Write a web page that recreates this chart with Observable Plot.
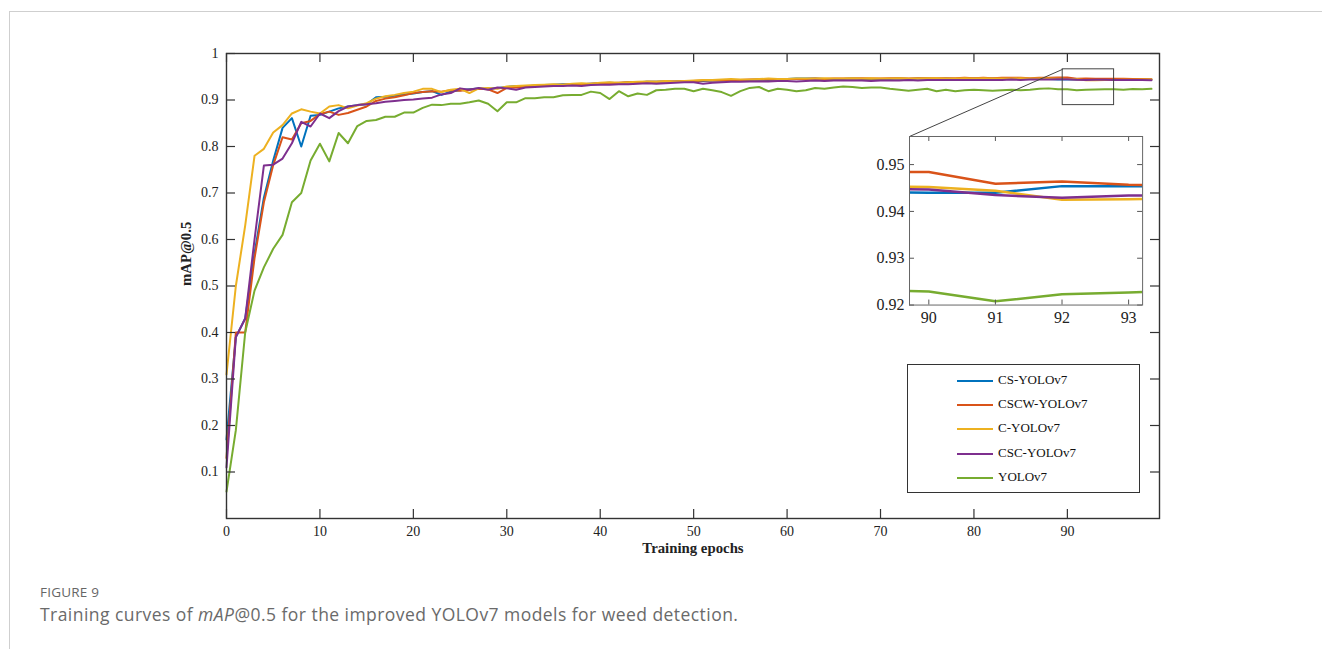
<!DOCTYPE html>
<html><head><meta charset="utf-8">
<script src="https://cdn.jsdelivr.net/npm/d3@7"></script>
<script src="https://cdn.jsdelivr.net/npm/@observablehq/plot@0.6"></script>
<style>
body{margin:0;background:#fff;}
#wrap{position:relative;width:1322px;height:649px;overflow:hidden;background:#fff;}
#card{position:absolute;left:9px;top:11px;width:1330px;height:660px;border-left:1px solid #cfcfcf;border-top:1px solid #cfcfcf;}
#main{position:absolute;left:0;top:40px;}
#inset{position:absolute;}
#legend{position:absolute;left:907px;top:364px;width:231px;height:127px;border:1px solid #333;background:#fff;font-family:'Liberation Serif',serif;font-size:13px;color:#111;}
.lg-row{position:absolute;left:0;height:16px;width:100%;}
.lg-line{position:absolute;left:49px;top:7px;width:36px;height:2px;}
.lg-text{position:absolute;left:90px;top:-1px;line-height:16px;white-space:nowrap;}
#fig{position:absolute;left:40px;top:583px;font-family:'Open Sans',sans-serif;font-size:13.5px;color:#666;letter-spacing:0.2px;}
#cap{position:absolute;left:40px;top:602px;font-family:'Open Sans',sans-serif;font-size:17.5px;color:#6a6a6a;white-space:nowrap;letter-spacing:0.45px;}
</style></head>
<body><div id="wrap"><div id="card"></div><div id="main"></div><div id="inset"></div><div id="legend"></div>
<div id="fig">FIGURE 9</div>
<div id="cap">Training curves of <i>mAP</i>@0.5 for the improved YOLOv7 models for weed detection.</div>
</div>
<script>
// ---------------- DATA ----------------
const epochs = d3.range(100);
const seriesNames = ["CS-YOLOv7", "CSCW-YOLOv7", "C-YOLOv7", "CSC-YOLOv7", "YOLOv7"];
const seriesColors = ["#0072BD", "#D95319", "#EDB120", "#7E2F8E", "#77AC30"];

const csYOLOv7 = [0.17,0.39,0.43,0.57,0.69,0.77,0.84,0.861,0.80,0.866,
0.868,0.875,0.882,0.886,0.889,0.891,0.906,0.907,0.909,0.912,
0.914,0.917,0.919,0.911,0.918,0.921,0.923,0.925,0.924,0.926,
0.928,0.930,0.929,0.931,0.932,0.933,0.934,0.933,0.934,0.935,
0.936,0.937,0.936,0.938,0.938,0.939,0.939,0.940,0.940,0.941,
0.941,0.941,0.942,0.942,0.943,0.942,0.943,0.944,0.943,0.944,
0.945,0.946,0.946,0.946,0.945,0.944,0.945,0.946,0.945,0.944,
0.945,0.945,0.946,0.945,0.946,0.946,0.945,0.946,0.945,0.945,
0.946,0.945,0.946,0.945,0.946,0.945,0.945,0.946,0.945,0.9442,
0.9440,0.9440,0.9454,0.9454,0.9452,0.9448,0.9445,0.9444,0.9442,0.9440];

const cscwYOLOv7 = [0.13,0.40,0.40,0.56,0.68,0.76,0.82,0.815,0.85,0.855,
0.870,0.875,0.868,0.872,0.879,0.886,0.898,0.903,0.906,0.910,
0.915,0.917,0.919,0.918,0.921,0.920,0.922,0.924,0.923,0.915,
0.926,0.927,0.929,0.930,0.930,0.932,0.933,0.934,0.934,0.935,
0.936,0.936,0.937,0.938,0.937,0.939,0.939,0.940,0.940,0.941,
0.941,0.942,0.942,0.942,0.943,0.943,0.944,0.944,0.944,0.944,
0.945,0.945,0.945,0.946,0.945,0.946,0.946,0.946,0.947,0.946,
0.946,0.947,0.947,0.946,0.947,0.947,0.947,0.947,0.947,0.948,
0.947,0.948,0.947,0.948,0.948,0.948,0.947,0.948,0.948,0.9485,
0.9484,0.9459,0.9464,0.9457,0.9455,0.9458,0.9455,0.9452,0.9450,0.9448];

const cYOLOv7 = [0.31,0.50,0.63,0.78,0.795,0.83,0.846,0.871,0.880,0.875,
0.871,0.886,0.889,0.882,0.888,0.893,0.903,0.908,0.911,0.915,
0.918,0.924,0.924,0.917,0.922,0.924,0.915,0.925,0.926,0.924,
0.929,0.930,0.931,0.932,0.933,0.934,0.933,0.935,0.936,0.935,
0.937,0.938,0.937,0.938,0.939,0.940,0.939,0.941,0.940,0.941,
0.942,0.943,0.943,0.944,0.945,0.944,0.944,0.945,0.946,0.945,
0.945,0.946,0.946,0.946,0.947,0.946,0.946,0.947,0.946,0.947,
0.946,0.946,0.947,0.946,0.946,0.947,0.947,0.946,0.946,0.947,
0.946,0.947,0.946,0.946,0.946,0.947,0.946,0.946,0.946,0.9455,
0.9452,0.9444,0.9425,0.9426,0.9428,0.9432,0.9435,0.9438,0.9440,0.9442];

const cscYOLOv7 = [0.11,0.39,0.43,0.60,0.759,0.761,0.774,0.807,0.853,0.843,
0.871,0.861,0.876,0.886,0.889,0.891,0.893,0.896,0.898,0.900,
0.901,0.903,0.905,0.912,0.915,0.925,0.922,0.926,0.922,0.927,
0.925,0.922,0.927,0.928,0.929,0.930,0.930,0.931,0.930,0.932,
0.933,0.933,0.934,0.934,0.935,0.936,0.935,0.936,0.937,0.938,
0.938,0.935,0.937,0.938,0.939,0.939,0.940,0.940,0.940,0.941,
0.941,0.940,0.941,0.942,0.941,0.942,0.942,0.942,0.942,0.941,
0.942,0.942,0.942,0.943,0.942,0.943,0.943,0.943,0.943,0.943,
0.943,0.943,0.943,0.943,0.944,0.943,0.944,0.944,0.944,0.9448,
0.9447,0.9435,0.9429,0.9434,0.9433,0.9432,0.9430,0.9428,0.9428,0.9427];

const yOLOv7 = [0.058,0.19,0.40,0.49,0.54,0.58,0.61,0.68,0.70,0.77,
0.806,0.768,0.829,0.807,0.844,0.855,0.857,0.864,0.864,0.873,
0.873,0.883,0.890,0.889,0.892,0.892,0.895,0.899,0.892,0.876,
0.895,0.895,0.904,0.904,0.906,0.906,0.910,0.911,0.911,0.918,
0.915,0.902,0.919,0.908,0.914,0.911,0.921,0.922,0.924,0.924,
0.919,0.924,0.921,0.917,0.909,0.919,0.926,0.928,0.919,0.924,
0.922,0.919,0.921,0.926,0.924,0.927,0.929,0.928,0.926,0.927,
0.927,0.924,0.922,0.920,0.922,0.924,0.919,0.922,0.919,0.921,
0.922,0.921,0.920,0.921,0.922,0.921,0.922,0.924,0.925,0.9233,
0.9229,0.9208,0.9223,0.9227,0.9232,0.9230,0.9220,0.9235,0.9230,0.9240];

const xTicks = [0,10,20,30,40,50,60,70,80,90];
const yTicks = [0.1,0.2,0.3,0.4,0.5,0.6,0.7,0.8,0.9,1];
const xDomain = [0, 99.86];
const yDomain = [0, 1];

const insetXTicks = [90,91,92,93];
const insetYTicks = [0.92,0.93,0.94,0.95];
const insetXDomain = [89.71, 93.21];
const insetYDomain = [0.92, 0.956];

// zoomed region marker and inset placement (in main-chart data units)
const zoomBox = [{x1: 89.5, x2: 95.0, y1: 0.889, y2: 0.966}];
const insetBox = [{x1: 73.1, x2: 98.05, y1: 0.459, y2: 0.8215}];

// ---------------- BUILD ----------------
const allSeries = [csYOLOv7, cscwYOLOv7, cYOLOv7, cscYOLOv7, yOLOv7];
const rows = [];
allSeries.forEach((vals, i) => vals.forEach((v, j) => rows.push({epoch: epochs[j], value: v, series: seriesNames[i]})));

const W = 1322, H = 530, ML = 226, MR = 1322 - 1159, MT = 13, MB = 52;
const PW = W - ML - MR, PH = H - MT - MB;
const frameColor = "#333";
const connector = [{x1: zoomBox[0].x1, y1: zoomBox[0].y2, x2: insetBox[0].x1, y2: insetBox[0].y2}];

const main = Plot.plot({
  width: W, height: H, marginLeft: ML, marginRight: MR, marginTop: MT, marginBottom: MB,
  style: {fontFamily: "'Liberation Serif', serif", fontSize: "14px", color: "#222", background: "transparent", overflow: "visible"},
  x: {domain: xDomain},
  y: {domain: yDomain},
  color: {domain: seriesNames, range: seriesColors},
  marks: [
    Plot.axisX(xTicks, {tickSize: 0, tickPadding: 8, label: null, tickFormat: d => String(d)}),
    Plot.axisY(yTicks, {tickSize: 0, tickPadding: 8, label: null, tickFormat: d => String(d)}),
    Plot.line(rows, {x: "epoch", y: "value", z: "series", stroke: "series", strokeWidth: 2}),
    Plot.link(connector, {x1: "x1", y1: "y1", x2: "x2", y2: "y2", stroke: "#444", strokeWidth: 1}),
    Plot.rect(zoomBox, {x1: "x1", x2: "x2", y1: "y1", y2: "y2", fill: "none", stroke: "#444", strokeWidth: 1}),
    Plot.tickX(xTicks, {x: d => d, insetTop: PH - 9, stroke: frameColor, strokeWidth: 1.2}),
    Plot.tickX(xTicks, {x: d => d, insetBottom: PH - 9, stroke: frameColor, strokeWidth: 1.2}),
    Plot.tickY(yTicks, {y: d => d, insetRight: PW - 9, stroke: frameColor, strokeWidth: 1.2}),
    Plot.tickY(yTicks, {y: d => d, insetLeft: PW - 9, stroke: frameColor, strokeWidth: 1.2}),
    Plot.frame({stroke: frameColor, strokeWidth: 1.4}),
    Plot.text(["Training epochs"], {text: d => d, frameAnchor: "bottom", dy: 34, fontWeight: "bold", fontSize: 14.8}),
    Plot.text(["mAP@0.5"], {text: d => d, frameAnchor: "left", dx: -40, rotate: -90, fontWeight: "bold", fontSize: 14.8})
  ]
});
document.getElementById("main").appendChild(main);

// inset
const sx = main.scale("x"), sy = main.scale("y");
const ib = insetBox[0];
const iL = sx.apply(ib.x1), iR = sx.apply(ib.x2), iT = sy.apply(ib.y2), iB = sy.apply(ib.y1);
const IML = 48, IMR = 6, IMT = 6, IMB = 28;
const IPW = iR - iL, IPH = iB - iT;
const inset = Plot.plot({
  width: IPW + IML + IMR, height: IPH + IMT + IMB,
  marginLeft: IML, marginRight: IMR, marginTop: IMT, marginBottom: IMB,
  style: {fontFamily: "'Liberation Serif', serif", fontSize: "16px", color: "#222", background: "transparent", overflow: "visible"},
  x: {domain: insetXDomain},
  y: {domain: insetYDomain},
  color: {domain: seriesNames, range: seriesColors},
  marks: [
    Plot.frame({fill: "#fff"}),
    Plot.axisX(insetXTicks, {tickSize: 0, tickPadding: 7, label: null, tickFormat: d => String(d)}),
    Plot.axisY(insetYTicks, {tickSize: 0, tickPadding: 5, label: null, tickFormat: d => d.toFixed(2)}),
    Plot.line(rows, {x: "epoch", y: "value", z: "series", stroke: "series", strokeWidth: 2.5, clip: true}),
    Plot.tickX(insetXTicks, {x: d => d, insetTop: IPH - 5, stroke: "#555"}),
    Plot.tickX(insetXTicks, {x: d => d, insetBottom: IPH - 5, stroke: "#555"}),
    Plot.tickY(insetYTicks, {y: d => d, insetRight: IPW - 5, stroke: "#555"}),
    Plot.tickY(insetYTicks, {y: d => d, insetLeft: IPW - 5, stroke: "#555"}),
    Plot.frame({stroke: "#666", strokeWidth: 1})
  ]
});
const insetDiv = document.getElementById("inset");
insetDiv.style.left = (iL - IML) + "px";
insetDiv.style.top = (40 + iT - IMT) + "px";
insetDiv.appendChild(inset);

// legend
const legend = document.getElementById("legend");
seriesNames.forEach((name, i) => {
  const row = document.createElement("div");
  row.className = "lg-row";
  row.style.top = (8 + i * 24.2) + "px";
  const ln = document.createElement("div");
  ln.className = "lg-line";
  ln.style.background = seriesColors[i];
  const tx = document.createElement("div");
  tx.className = "lg-text";
  tx.textContent = name;
  row.appendChild(ln); row.appendChild(tx);
  legend.appendChild(row);
});
</script>
</body></html>
